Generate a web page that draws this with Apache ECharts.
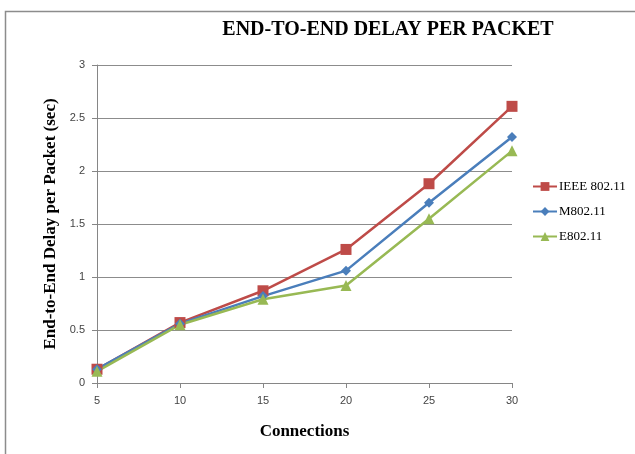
<!DOCTYPE html>
<html>
<head>
<meta charset="utf-8">
<script src="https://cdn.jsdelivr.net/npm/echarts@6/dist/echarts.min.js"></script>
<style>
  html, body { margin: 0; padding: 0; background: #fff; }
  #chart { width: 635px; height: 454px; }
</style>
</head>
<body>
<div id="chart"></div>
<script>
const connections = ['5', '10', '15', '20', '25', '30'];
const ieee80211 = [0.13, 0.57, 0.87, 1.26, 1.88, 2.61];
const m80211 = [0.13, 0.56, 0.82, 1.06, 1.70, 2.32];
const e80211 = [0.11, 0.55, 0.79, 0.92, 1.55, 2.19];

const serif = '"Liberation Serif", "DejaVu Serif", serif';
const sans = '"Liberation Sans", "DejaVu Sans", sans-serif';

const chart = echarts.init(document.getElementById('chart'), null, { renderer: 'canvas' });

const lineSeries = (name, data, color, symbol, size) => ({
  name,
  type: 'line',
  data,
  symbol,
  symbolSize: size,
  lineStyle: { color, width: 2.5 },
  itemStyle: { color },
  animation: false
});

chart.setOption({
  backgroundColor: '#fff',
  animation: false,
  graphic: [
    {
      type: 'rect',
      shape: { x: 5.5, y: 11.5, width: 640, height: 460 },
      style: { fill: 'none', stroke: '#8c8c8c', lineWidth: 1.5 },
      silent: true
    }
  ],
  title: {
    text: 'END-TO-END DELAY PER PACKET',
    left: 383,
    top: 15,
    textAlign: 'center',
    textStyle: { fontFamily: serif, fontWeight: 'bold', fontSize: 20, color: '#000' }
  },
  legend: {
    orient: 'vertical',
    left: 527,
    top: 175,
    itemGap: 12,
    itemWidth: 24,
    itemHeight: 11,
    itemStyle: {},
    textStyle: { fontFamily: serif, fontSize: 13, color: '#000', padding: [0, 0, 0, -3] },
    data: ['IEEE 802.11', 'M802.11', 'E802.11']
  },
  grid: { left: 97, right: 123, top: 65, bottom: 71 },
  xAxis: {
    type: 'category',
    data: connections,
    boundaryGap: false,
    name: 'Connections',
    nameLocation: 'middle',
    nameGap: 40,
    nameTextStyle: { fontFamily: serif, fontWeight: 'bold', fontSize: 17, color: '#000' },
    axisLine: { lineStyle: { color: '#868686', width: 1 } },
    axisTick: { show: true, length: 5, alignWithLabel: true, lineStyle: { color: '#868686' } },
    axisLabel: { fontFamily: sans, fontSize: 11, color: '#444', margin: 12 },
    splitLine: { show: false }
  },
  yAxis: {
    type: 'value',
    min: 0,
    max: 3,
    interval: 0.5,
    name: 'End-to-End Delay per Packet (sec)',
    nameLocation: 'middle',
    nameGap: 38,
    nameTextStyle: { fontFamily: serif, fontWeight: 'bold', fontSize: 17, color: '#000' },
    axisLine: { show: true, lineStyle: { color: '#868686', width: 1 } },
    axisTick: { show: true, length: 5, inside: false, lineStyle: { color: '#868686' } },
    axisLabel: { fontFamily: sans, fontSize: 11, color: '#444', margin: 12 },
    splitLine: { lineStyle: { color: '#8c8c8c', width: 1 } }
  },
  series: [
    lineSeries('IEEE 802.11', ieee80211, '#be4b48', 'rect', 11),
    lineSeries('M802.11', m80211, '#4a7ebb', 'diamond', 10),
    lineSeries('E802.11', e80211, '#98b954', 'triangle', 11)
  ]
});
</script>
</body>
</html>
